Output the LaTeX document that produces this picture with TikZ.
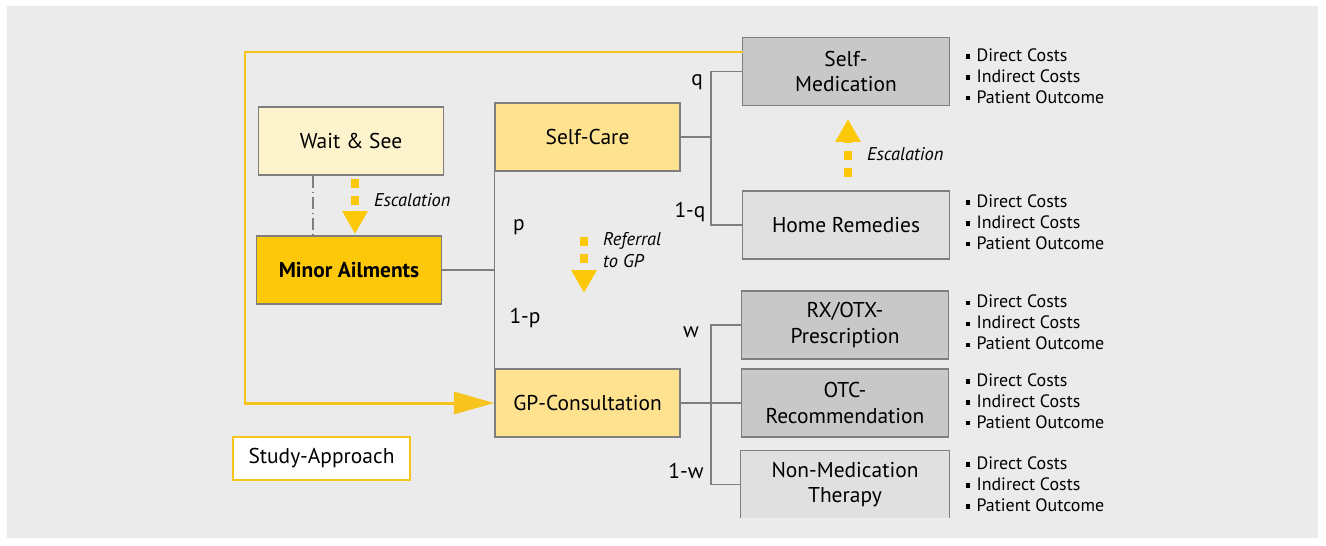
\documentclass[tikz,border=0pt]{standalone}
\usepackage{fontspec}
\setmainfont{PT Sans}
\usetikzlibrary{arrows.meta}

\definecolor{bgGray}{HTML}{EBEBEB}
\definecolor{paleYellow}{HTML}{FDF4CE}
\definecolor{lightYellow}{HTML}{FEE290}
\definecolor{deepYellow}{HTML}{FEC80A}
\definecolor{lineYellow}{HTML}{F6C41C}
\definecolor{darkBox}{HTML}{C8C8C8}
\definecolor{lightBox}{HTML}{E0E0E0}
\definecolor{edgeGray}{HTML}{7E7E7E}

\newcommand{\sqb}{\raisebox{0.3ex}{\rule{2.4pt}{2.4pt}}\hspace{3.5pt}}

\begin{document}
\begin{tikzpicture}[
    x=0.02cm, y=-0.02cm,
    every node/.style={align=center, font=\fontsize{12.2}{14.4}\selectfont},
    box/.style={rectangle, draw=edgeGray, line width=0.8pt, minimum height=1.36cm, minimum width=3.7cm, inner sep=2pt},
    waitBox/.style={box, fill=paleYellow},
    ailBox/.style={box, fill=deepYellow, font=\fontsize{12.2}{14.4}\selectfont\bfseries},
    careBox/.style={box, fill=lightYellow},
    medBox/.style={box, fill=darkBox, minimum width=4.14cm},
    homeBox/.style={box, fill=lightBox, minimum width=4.14cm},
    outList/.style={anchor=west, align=left, font=\fontsize{10.2}{11.9}\selectfont},
    escLabel/.style={anchor=west, align=left, font=\fontsize{10.5}{12.5}\selectfont\itshape},
    conn/.style={draw=edgeGray, line width=0.8pt},
    loopline/.style={draw=lineYellow, line width=1.7pt, -{Triangle[width=12.5pt, length=23pt]}},
    escarrow/.style={draw=deepYellow, line width=5pt, dash pattern=on 5.1pt off 4.6pt, -{Triangle[width=13.6pt, length=13pt]}}
]

\useasboundingbox (0,0) rectangle (1326,545);
\fill[bgGray] (7,6) rectangle (1318,538);

% Nodes
\node[waitBox] (ws) at (351,141) {Wait \& See};
\node[ailBox] (ma) at (349,270) {Minor Ailments};
\node[careBox] (sc) at (587.5,137) {Self-Care};
\node[careBox] (gp) at (587.5,403) {GP-Consultation};
\node[medBox] (sm) at (846,71.5) {Self-\\Medication};
\node[homeBox] (hr) at (846,225) {Home Remedies};
\node[medBox] (rx) at (845,325) {RX/OTX-\\Prescription};
\node[medBox] (otc) at (845,403) {OTC-\\Recommendation};
\node[rectangle, fill=lightBox, minimum height=1.34cm, minimum width=4.16cm] (nm) at (845,484.5) {Non-Medication\\Therapy};
\node[rectangle, draw=lineYellow, fill=white, line width=1pt, minimum height=0.86cm, minimum width=3.54cm] (study) at (321.5,458.5) {Study-Approach};

% Probabilities
\node (pUp) at (519,227) {p};
\node (pDown) at (525,318) {1-p};
\node (qUp) at (697,82) {q};
\node (qDown) at (690,212) {1-q};
\node (wUp) at (691,332) {w};
\node (wDown) at (686,471) {1-w};

% Outcomes
\node[outList] (smOut) at (960,76) {\sqb Direct Costs\\\sqb Indirect Costs\\\sqb Patient Outcome};
\node[outList] (hrOut) at (960,222) {\sqb Direct Costs\\\sqb Indirect Costs\\\sqb Patient Outcome};
\node[outList] (rxOut) at (960,322.5) {\sqb Direct Costs\\\sqb Indirect Costs\\\sqb Patient Outcome};
\node[outList] (otcOut) at (960,401) {\sqb Direct Costs\\\sqb Indirect Costs\\\sqb Patient Outcome};
\node[outList] (nmOut) at (960,484) {\sqb Direct Costs\\\sqb Indirect Costs\\\sqb Patient Outcome};

% Escalation labels
\node[escLabel] (escA) at (368,200) {Escalation};
\node[escLabel] (escB) at (861,154) {Escalation};
\node[escLabel] (refGP) at (597,250) {Referral\\to GP};

% Helper coordinates
\coordinate (scFork) at (711,137);
\coordinate (gpFork) at (711,403);
\coordinate (loopStart) at (743,52);
\coordinate (escAs) at (355,179);
\coordinate (escAe) at (355,234);
\coordinate (escBs) at (848,177);
\coordinate (escBe) at (848,119);
\coordinate (refs) at (584,237);
\coordinate (refe) at (584,293);

% Arrows
\draw[conn] (ma.east) -- (ma.east -| sc.west);
\draw[conn] (sc.south west) -- (gp.north west);
\draw[conn] (sc.east) -- (scFork);
\draw[conn] (sm.west) -| (scFork) |- (hr.west);
\draw[conn] (gp.east) -- (gpFork);
\draw[conn] (rx.west) -| (gpFork) |- (nm.west);
\draw[conn] (gpFork) -- (otc.west);
\draw[conn] (nm.south west) -- (nm.north west) -- (nm.north east) -- (nm.south east);
\draw[edgeGray, line width=0.8pt, dash pattern=on 7pt off 2pt on 1pt off 2pt] (ws.south -| 313,0) -- (ma.north -| 313,0);
\draw[loopline] (loopStart) -- (245,52) |- (gp.west);
\draw[escarrow] (escAs) -- (escAe);
\draw[escarrow] (escBs) -- (escBe);
\draw[escarrow] (refs) -- (refe);

\end{tikzpicture}
\end{document}
